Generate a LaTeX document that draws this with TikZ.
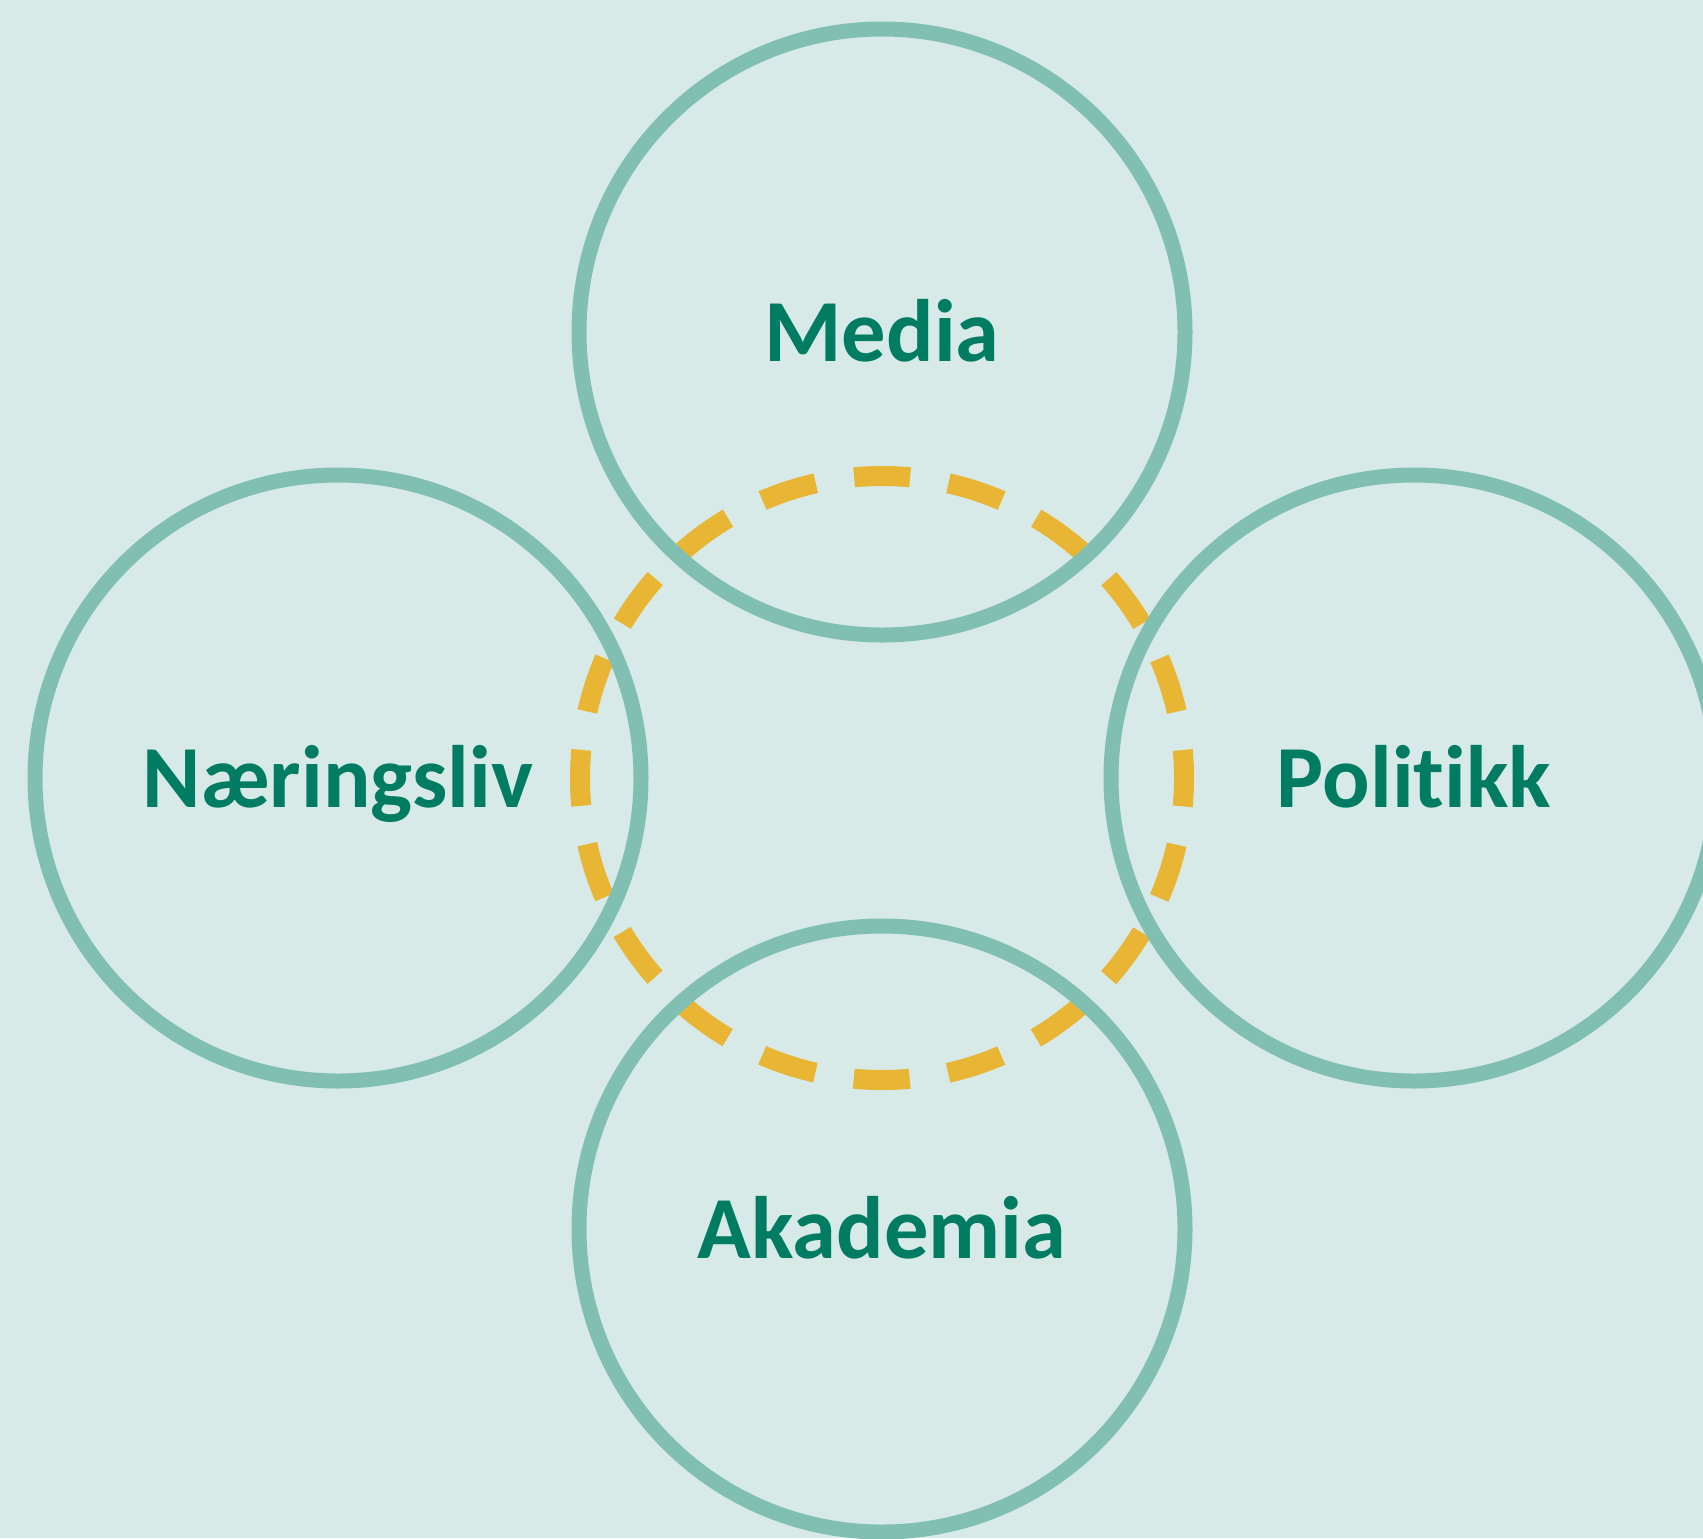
\documentclass[tikz,border=0pt]{standalone}
\usepackage{fontspec}
\setmainfont{Carlito}[Ligatures=NoCommon]
\usepackage{xcolor}
\usepackage{tikz}
\usetikzlibrary{positioning}
\definecolor{bgmint}{HTML}{D8EAE7}
\definecolor{ringteal}{HTML}{80BFB2}
\definecolor{labelgreen}{HTML}{007C62}
\definecolor{linkgold}{HTML}{E8B535}

\begin{document}
\begin{tikzpicture}[
    sector/.style={circle, draw=ringteal, line width=0.15cm, minimum size=6.06cm, inner sep=0pt, text=labelgreen, font=\fontsize{25.2}{30}\selectfont\bfseries, text height=0.58cm, text depth=0pt},
    linkring/.style={draw=linkgold, line width=0.2cm, dash pattern=on 0.56cm off 0.3887cm, dash phase=0.28cm}
]
\useasboundingbox (0,0) rectangle (17.03,-15.38);
\clip (0,0) rectangle (17.03,-15.38);
\fill[bgmint] (0,0) rectangle (17.03,-15.38);
\coordinate (hub) at (8.82,-7.78);
\draw[linkring] (hub) circle (3.02);
\node[sector, above=1.355cm of hub] (media) {Media};
\node[sector, below=1.405cm of hub] (akademia) {Akademia};
\node[sector, left=2.335cm of hub] (naering) {Næringsliv};
\node[sector, right=2.215cm of hub] (politikk) {Politikk};
\end{tikzpicture}
\end{document}
